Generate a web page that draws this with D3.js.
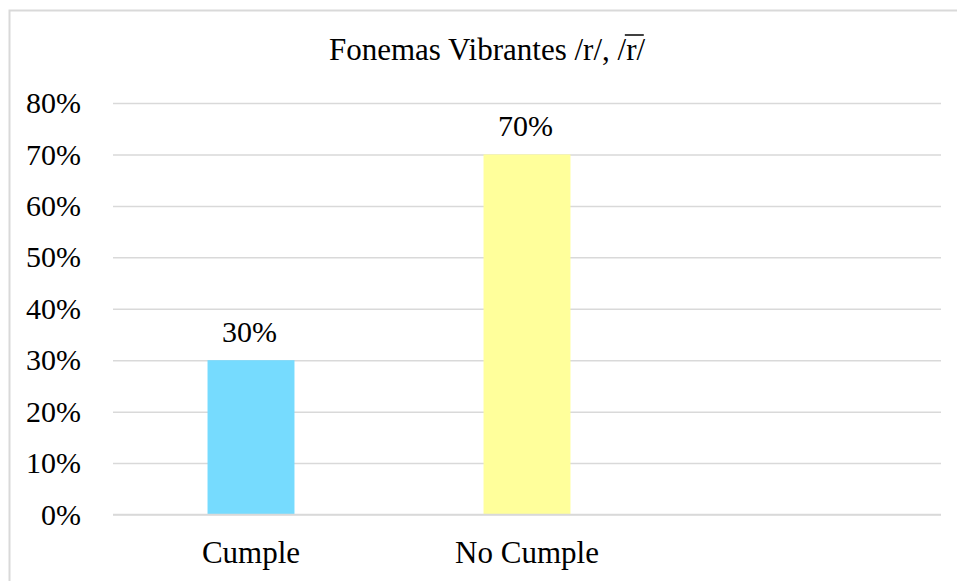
<!DOCTYPE html>
<html>
<head>
<meta charset="utf-8">
<script src="https://cdn.jsdelivr.net/npm/d3@7"></script>
<style>
  body { margin: 0; background: #fff; }
</style>
</head>
<body>
<div id="chart"></div>
<script>
// DATA
const categories = ["Cumple", "No Cumple", ""];
const values = [0.30, 0.70, null];
const yTicks = [0, 0.1, 0.2, 0.3, 0.4, 0.5, 0.6, 0.7, 0.8];
const barColors = ["#76dbfe", "#ffff9b", "#ffffff"];
const titleParts = ["Fonemas Vibrantes /r/, /", "r", "/"];

// SIZES
const width = 957;
const height = 581;
const margin = {top: 103, right: 16, bottom: 66.5, left: 113};
const fontSize = 30;
const titleSize = 31;
const serif = "'Liberation Serif', 'Times New Roman', Times, serif";

const svg = d3.select("#chart").append("svg")
    .attr("width", width)
    .attr("height", height)
    .attr("font-family", serif);

svg.append("rect")
    .attr("x", 9.5).attr("y", 10.5)
    .attr("width", 1000).attr("height", 1000)
    .attr("fill", "#fff")
    .attr("stroke", "#d9d9d9")
    .attr("stroke-width", 2);

// SCALES
const x = d3.scaleBand()
    .domain(categories)
    .range([margin.left, width - margin.right])
    .paddingInner(0.685)
    .paddingOuter(0.3425);

const y = d3.scaleLinear()
    .domain([0, 0.8])
    .range([height - margin.bottom, margin.top]);

// GRIDLINES + Y LABELS
const yAxis = d3.axisLeft(y)
    .tickValues(yTicks)
    .tickFormat(d3.format(".0%"))
    .tickSize(-(width - margin.right - margin.left))
    .tickPadding(32);

const gy = svg.append("g")
    .attr("transform", "translate(" + margin.left + ",0)")
    .call(yAxis)
    .attr("font-family", serif)
    .attr("font-size", fontSize);
gy.select(".domain").remove();
gy.selectAll(".tick line").attr("stroke", "#d9d9d9").attr("stroke-width", 1.5);
gy.selectAll(".tick text").attr("fill", "#000");

// BARS
svg.selectAll(".bar")
    .data(categories.map((c, i) => ({cat: c, val: values[i], color: barColors[i]})).filter(d => d.val != null))
    .enter().append("rect")
    .attr("class", "bar")
    .attr("x", d => x(d.cat))
    .attr("width", x.bandwidth())
    .attr("y", d => y(d.val))
    .attr("height", d => y(0) - y(d.val))
    .attr("fill", d => d.color);

// redraw baseline over bars
svg.append("line")
    .attr("x1", margin.left).attr("x2", width - margin.right)
    .attr("y1", y(0)).attr("y2", y(0))
    .attr("stroke", "#d9d9d9").attr("stroke-width", 1.5);

// DATA LABELS
svg.selectAll(".lbl")
    .data(categories.map((c, i) => ({cat: c, val: values[i]})).filter(d => d.val != null))
    .enter().append("text")
    .attr("class", "lbl")
    .attr("text-anchor", "middle")
    .attr("x", d => x(d.cat) + x.bandwidth() / 2 - 1.5)
    .attr("y", d => y(d.val) - 18)
    .attr("font-size", fontSize)
    .text(d => d3.format(".0%")(d.val));

// X AXIS LABELS
const xAxis = d3.axisBottom(x).tickSize(0).tickPadding(0);
const gx = svg.append("g")
    .attr("transform", "translate(0," + y(0) + ")")
    .call(xAxis)
    .attr("font-family", serif)
    .attr("font-size", titleSize);
gx.select(".domain").remove();
gx.selectAll(".tick text")
    .attr("y", 48)
    .attr("dy", null)
    .attr("fill", "#000");

// TITLE
const t = svg.append("text")
    .attr("x", 487)
    .attr("y", 60)
    .attr("text-anchor", "middle")
    .attr("font-size", titleSize);
titleParts.forEach(p => t.append("tspan").text(p));

// overline over the second r, from slash top to slash top
const rIndex = titleParts[0].length;
const s1 = t.node().getExtentOfChar(rIndex - 1);
const s2 = t.node().getExtentOfChar(rIndex + 1);
svg.append("line")
    .attr("x1", s1.x + s1.width * 0.85).attr("x2", s2.x + s2.width * 0.85)
    .attr("y1", 35).attr("y2", 35)
    .attr("stroke", "#000").attr("stroke-width", 1.5);
</script>
</body>
</html>
